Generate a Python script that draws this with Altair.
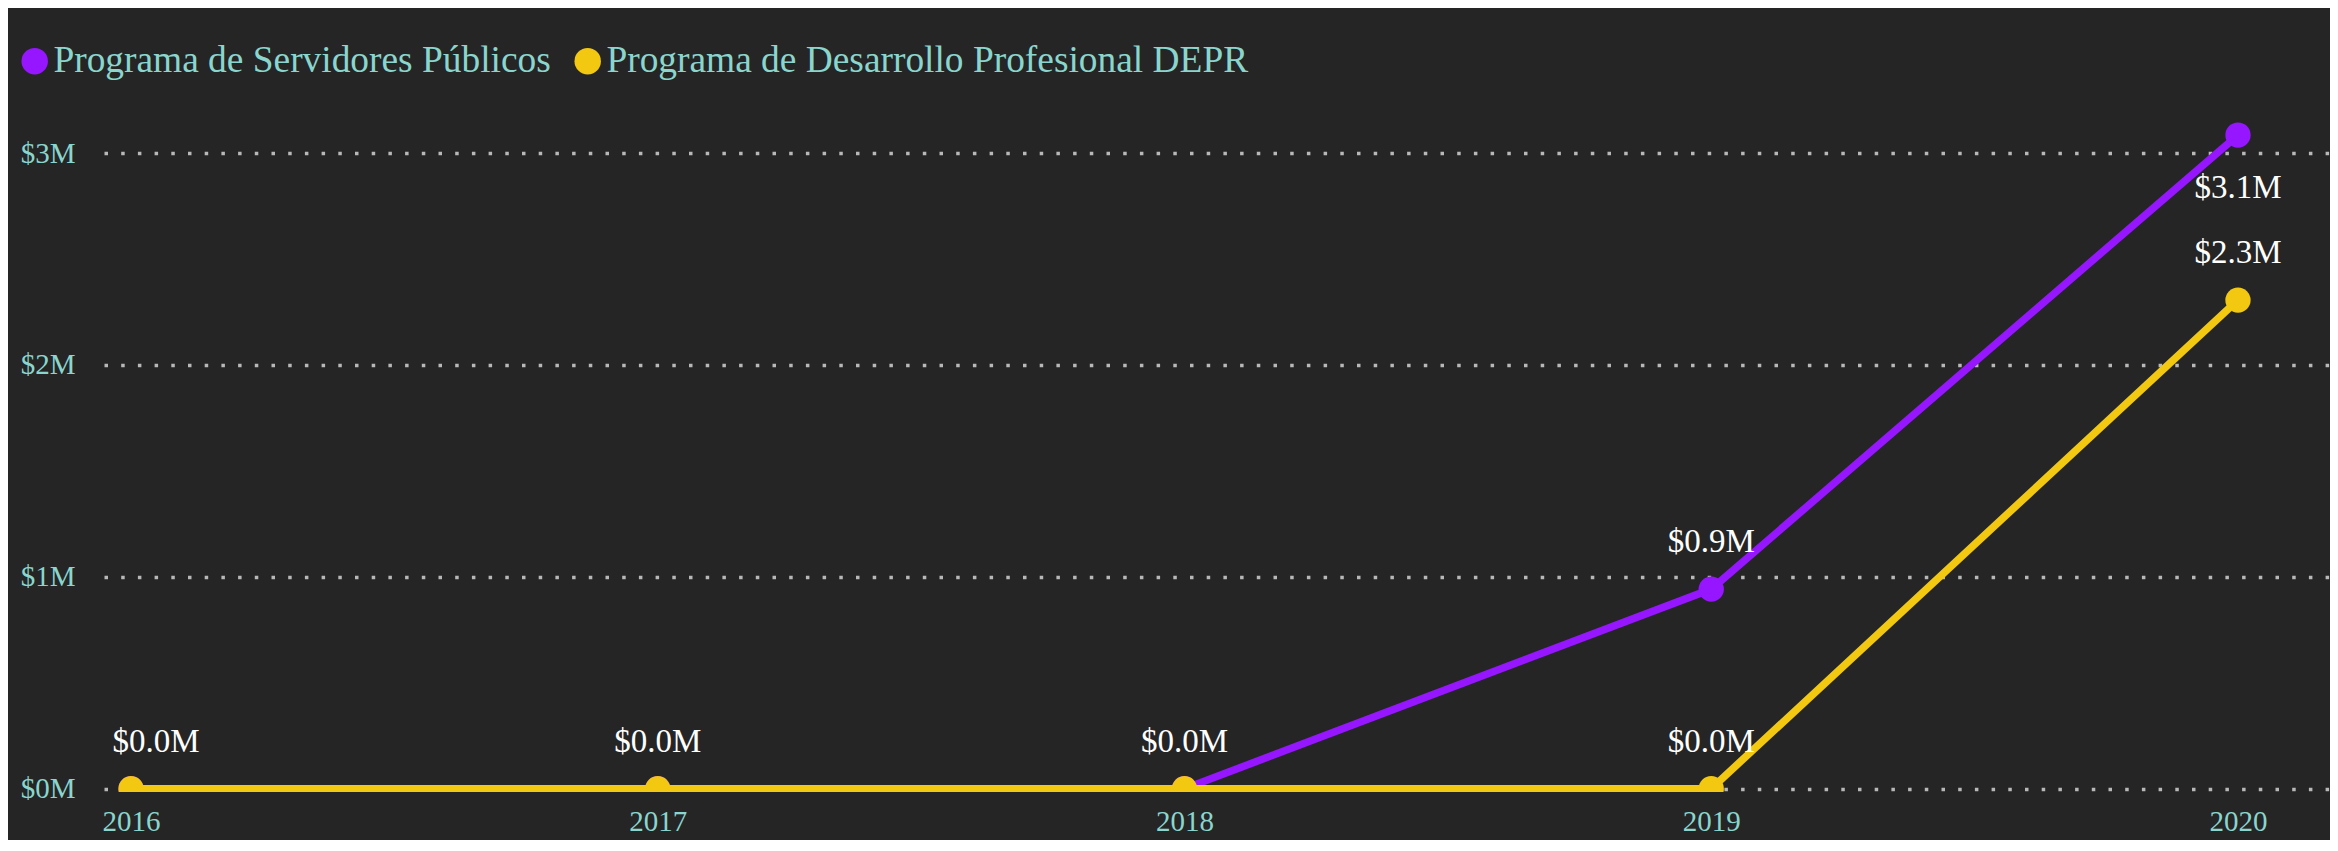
import altair as alt
import pandas as pd

years = [2016, 2017, 2018, 2019, 2020]
servidores = [0.0, 0.0, 0.0, 0.942, 3.085]
depr = [0.0, 0.0, 0.0, 0.0, 2.306]
series_names = ["Programa de Servidores Públicos", "Programa de Desarrollo Profesional DEPR"]
series_colors = ["#9616FF", "#F2C811"]
y_ticks = [0, 1, 2, 3]

rows = []
for y, v in zip(years, servidores):
    rows.append({"year": y, "value": v, "series": series_names[0]})
for y, v in zip(years, depr):
    rows.append({"year": y, "value": v, "series": series_names[1]})
df = pd.DataFrame(rows)

FONT = "Liberation Serif"
TEAL = "#8ad6ce"
BG = "#252525"

x_enc = alt.X("year:Q", scale=alt.Scale(domain=[2015.9487, 2020.1747], nice=False, zero=False),
              axis=alt.Axis(values=years, format="d", title=None, grid=False, domain=False,
                            ticks=False, tickSize=0, labelPadding=15, labelFontSize=29,
                            labelColor=TEAL, labelFont=FONT, labelFlush=False))
y_enc = alt.Y("value:Q", scale=alt.Scale(domain=[-0.0156, 3.156], nice=False, zero=False),
              axis=alt.Axis(values=y_ticks, labelExpr="'$' + datum.value + 'M'", title=None,
                            domain=False, ticks=False, tickSize=0, labelPadding=29,
                            labelFontSize=29, labelColor=TEAL, labelFont=FONT,
                            grid=True, gridColor="#b8b8b8", gridDash=[3.5, 13.2],
                            gridWidth=3.5))

color_scale = alt.Scale(domain=series_names, range=series_colors)

base = alt.Chart(df)

def line_layer(name, col):
    return base.transform_filter(alt.datum.series == name).mark_line(
        strokeWidth=7.5, clip=True, color=col
    ).encode(x=x_enc, y=y_enc)

def point_layer(name):
    return base.transform_filter(alt.datum.series == name).mark_circle(
        size=640, opacity=1, clip=True
    ).encode(
        x=x_enc, y=y_enc,
        color=alt.Color("series:N", scale=color_scale, sort=series_names,
                        legend=alt.Legend(title=None, orient="none", direction="horizontal",
                                          legendX=-88, legendY=-78, labelFont=FONT,
                                          labelFontSize=37.4, labelColor=TEAL, symbolSize=700,
                                          symbolType="circle", labelOffset=0,
                                          columnPadding=18, labelLimit=1000,
                                          symbolStrokeWidth=0, symbolOpacity=1)),
    )

lab = base.transform_calculate(
    label="'$' + format(datum.value, '.1f') + 'M'"
)

text_above = lab.transform_filter(
    "!(datum.series == '%s' && (datum.value == 0 || datum.year == 2020)) && datum.year != 2016" % series_names[0]
).mark_text(font=FONT, fontSize=33, color="#ffffff", baseline="alphabetic", dy=-37).encode(
    x=x_enc, y=y_enc, text="label:N")

text_2016 = lab.transform_filter(
    "datum.series == '%s' && datum.year == 2016" % series_names[1]
).mark_text(font=FONT, fontSize=33, color="#ffffff", baseline="alphabetic", dy=-37, dx=25).encode(
    x=x_enc, y=y_enc, text="label:N")

text_below = lab.transform_filter(
    "datum.series == '%s' && datum.year == 2020" % series_names[0]
).mark_text(font=FONT, fontSize=33, color="#ffffff", baseline="alphabetic", dy=63).encode(
    x=x_enc, y=y_enc, text="label:N")

chart = alt.layer(
    line_layer(series_names[0], series_colors[0]),
    point_layer(series_names[0]),
    line_layer(series_names[1], series_colors[1]),
    point_layer(series_names[1]),
    text_above, text_2016, text_below,
).properties(
    width=2226, height=672, background=BG,
    padding={"left": 96, "top": 112, "right": 0, "bottom": 48},
    autosize=alt.AutoSizeParams(type="none"),
).configure_view(stroke=None).configure_legend(
    labelFont=FONT, labelFontSize=37.4, labelColor=TEAL
)

chart.save("out.html", embed_options={"renderer": "svg", "actions": False})
